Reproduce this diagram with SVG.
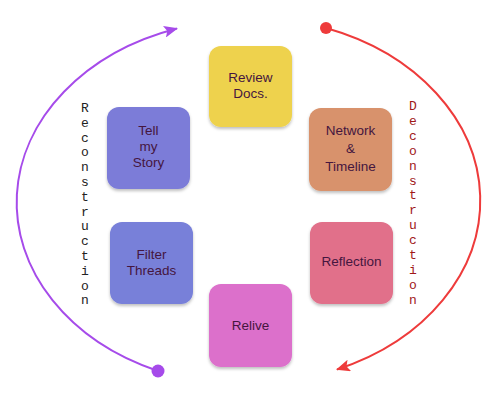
<svg xmlns="http://www.w3.org/2000/svg" width="500" height="417" viewBox="0 0 500 417">
<defs>
<filter id="sh" x="-10%" y="-10%" width="120%" height="125%">
<feDropShadow dx="0" dy="2" stdDeviation="1.5" flood-color="#000" flood-opacity="0.25"/>
</filter>
<marker id="ap" viewBox="0 0 14 12" refX="13" refY="6" markerWidth="14" markerHeight="12" markerUnits="userSpaceOnUse" orient="auto">
<path d="M0,0 L14,6 L0,12 L3,6 Z" fill="#A64BEA"/>
</marker>
<marker id="ar" viewBox="0 0 14 12" refX="13" refY="6" markerWidth="14" markerHeight="12" markerUnits="userSpaceOnUse" orient="auto">
<path d="M0,0 L14,6 L0,12 L3,6 Z" fill="#EE3B3B"/>
</marker>
</defs>
<style>
.box{rx:12px;ry:12px;filter:url(#sh);}
.lbl{font-family:"Liberation Sans",Arial,sans-serif;font-size:13.5px;fill:#45163F;text-anchor:middle;}
.vt{font-family:"Liberation Mono","DejaVu Sans Mono",monospace;font-size:13px;text-anchor:middle;}
</style>
<rect width="500" height="417" fill="#fff"/>
<g id="connectors">
<path d="M158,371 A232,183 0 0 1 177,28.5" fill="none" stroke="#A64BEA" stroke-width="2" marker-end="url(#ap)"/>
<circle cx="158" cy="371" r="6.5" fill="#A64BEA"/>
<path d="M326,28 A232,183 0 0 1 337,369.5" fill="none" stroke="#EE3B3B" stroke-width="2" marker-end="url(#ar)"/>
<circle cx="326" cy="28" r="6" fill="#EE3B3B"/>
</g>
<g id="reconstruction">
<text class="vt" fill="#222"><tspan x="85" y="112">R</tspan><tspan x="85" dy="14.8">e</tspan><tspan x="85" dy="14.8">c</tspan><tspan x="85" dy="14.8">o</tspan><tspan x="85" dy="14.8">n</tspan><tspan x="85" dy="14.8">s</tspan><tspan x="85" dy="14.8">t</tspan><tspan x="85" dy="14.8">r</tspan><tspan x="85" dy="14.8">u</tspan><tspan x="85" dy="14.8">c</tspan><tspan x="85" dy="14.8">t</tspan><tspan x="85" dy="14.8">i</tspan><tspan x="85" dy="14.8">o</tspan><tspan x="85" dy="14.8">n</tspan></text>
</g>
<g id="deconstruction">
<text class="vt" fill="#A01818"><tspan x="413" y="110">D</tspan><tspan x="413" dy="14.9">e</tspan><tspan x="413" dy="14.9">c</tspan><tspan x="413" dy="14.9">o</tspan><tspan x="413" dy="14.9">n</tspan><tspan x="413" dy="14.9">s</tspan><tspan x="413" dy="14.9">t</tspan><tspan x="413" dy="14.9">r</tspan><tspan x="413" dy="14.9">u</tspan><tspan x="413" dy="14.9">c</tspan><tspan x="413" dy="14.9">t</tspan><tspan x="413" dy="14.9">i</tspan><tspan x="413" dy="14.9">o</tspan><tspan x="413" dy="14.9">n</tspan></text>
</g>
<g id="review">
<rect class="box" x="209" y="46" width="83" height="81" fill="#EED24E"/>
<text class="lbl"><tspan x="250.5" y="82">Review</tspan><tspan x="250.5" y="98">Docs.</tspan></text>
</g>
<g id="tell">
<rect class="box" x="107" y="107" width="83" height="82" fill="#7C7CD8"/>
<text class="lbl"><tspan x="148.5" y="135">Tell</tspan><tspan x="148.5" y="151">my</tspan><tspan x="148.5" y="167">Story</tspan></text>
</g>
<g id="network">
<rect class="box" x="309" y="108" width="83" height="83" fill="#D8926C"/>
<text class="lbl"><tspan x="350.5" y="135">Network</tspan><tspan x="350.5" y="153">&amp;</tspan><tspan x="350.5" y="171">Timeline</tspan></text>
</g>
<g id="filter">
<rect class="box" x="110" y="222" width="83" height="82" fill="#7880D9"/>
<text class="lbl"><tspan x="151.5" y="259">Filter</tspan><tspan x="151.5" y="275">Threads</tspan></text>
</g>
<g id="reflection">
<rect class="box" x="310" y="222" width="83" height="82" fill="#E1708A"/>
<text class="lbl" x="351.5" y="266">Reflection</text>
</g>
<g id="relive">
<rect class="box" x="209" y="284" width="83" height="83" fill="#DC6FCB"/>
<text class="lbl" x="250.5" y="330">Relive</text>
</g>
</svg>
